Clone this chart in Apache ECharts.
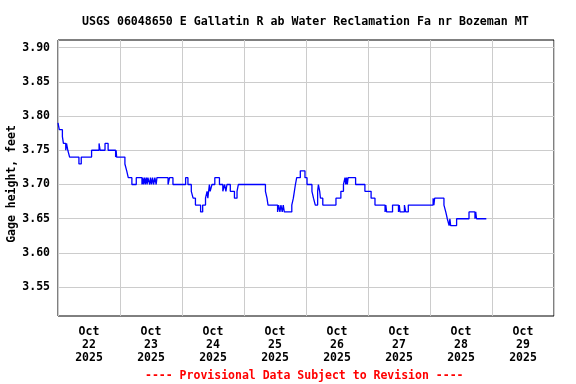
<!DOCTYPE html>
<html>
<head>
<meta charset="utf-8">
<script src="https://cdn.jsdelivr.net/npm/echarts@6/dist/echarts.min.js"></script>
<style>html,body{margin:0;padding:0;background:#fff}#c{width:576px;height:384px}</style>
</head>
<body>
<div id="c"></div>
<script>
// Hours since Oct 22 2025 00:00 at which the gage height changes
var changeHours = [0,0.5,1.7,2.1,3.0,3.3,3.8,4.5,8.1,9.0,13.0,15.9,16.3,18.2,19.4,22.3,22.5,22.7,25.9,26.6,27.2,28.6,30.3,
  32.5,32.8,33.1,33.5,33.8,34.2,34.5,34.8,35.5,35.8,36.2,36.6,37.0,37.5,38.0,38.3,42.6,43.2,44.5,49.4,50.3,51.6,52.3,53.2,55.2,56.0,
  57.1,57.7,58.0,58.3,58.6,58.9,59.6,60.7,62.5,63.8,64.5,65.0,65.4,66.7,68.3,69.3,69.8,80.3,80.9,81.3,
  85.0,85.4,85.9,86.3,86.8,87.2,87.6,90.5,91.1,91.5,91.9,92.4,93.8,95.6,96.4,98.3,98.9,99.6,100.5,100.8,101.3,101.6,102.1,102.5,
  107.6,109.5,110.5,111.1,111.4,111.7,112.0,112.3,115.2,118.8,121.2,122.7,126.6,126.9,127.2,129.5,131.8,132.1,132.4,134.1,134.6,135.6,
  145.2,145.5,145.8,149.4,150.1,150.7,151.4,151.7,152.0,154.3,159.1,161.4,161.7,162.0,165.8];
// Gage height (feet) from each change time on
var gageFeet = [3.79,3.78,3.77,3.76,3.75,3.76,3.75,3.74,3.73,3.74,3.75,3.76,3.75,3.76,3.75,3.74,3.75,3.74,3.73,3.72,3.71,3.70,3.71,
  3.70,3.71,3.70,3.71,3.70,3.71,3.70,3.71,3.70,3.71,3.70,3.71,3.70,3.71,3.70,3.71,3.70,3.71,3.70,3.71,3.70,3.69,3.68,3.67,3.66,3.67,
  3.68,3.69,3.68,3.69,3.70,3.69,3.70,3.71,3.70,3.69,3.70,3.69,3.70,3.69,3.68,3.69,3.70,3.69,3.68,3.67,
  3.66,3.67,3.66,3.67,3.66,3.67,3.66,3.67,3.68,3.69,3.70,3.71,3.72,3.71,3.70,3.69,3.68,3.67,3.69,3.70,3.69,3.68,3.68,3.67,
  3.68,3.69,3.70,3.71,3.70,3.71,3.70,3.71,3.70,3.69,3.68,3.67,3.66,3.67,3.66,3.67,3.66,3.67,3.66,3.67,3.66,3.67,
  3.68,3.67,3.68,3.67,3.66,3.65,3.64,3.65,3.64,3.65,3.66,3.65,3.66,3.65,3.65];
var dayLabels = ['Oct\n22\n2025','Oct\n23\n2025','Oct\n24\n2025','Oct\n25\n2025','Oct\n26\n2025','Oct\n27\n2025','Oct\n28\n2025','Oct\n29\n2025'];
var dayLabelHours = [12,36,60,84,108,132,156,180];
var yTicks = [3.55,3.60,3.65,3.70,3.75,3.80,3.85,3.90];
var titleText = 'USGS 06048650 E Gallatin R ab Water Reclamation Fa nr Bozeman MT';
var yName = 'Gage height, feet';
var footerText = '---- Provisional Data Subject to Revision ----';

var seriesData = changeHours.map(function(h, i){ return [h, gageFeet[i]]; });
var font = "'DejaVu Sans Mono', 'Liberation Mono', monospace";
var chart = echarts.init(document.getElementById('c'), null, {renderer: 'canvas'});
chart.setOption({
  animation: false,
  backgroundColor: '#fff',
  title: {
    text: titleText, left: 77, top: 11,
    textStyle: {fontFamily: font, fontWeight: 'bold', fontSize: 11.6, color: '#000'}
  },
  grid: {left: 58, right: 22, top: 40, bottom: 68, containLabel: false, outerBoundsMode: 'none',
    show: true, borderColor: '#000', borderWidth: 1, backgroundColor: 'transparent'},
  xAxis: {
    type: 'value', min: 0, max: 192, interval: 24,
    axisLine: {show: false}, axisTick: {show: false},
    splitLine: {show: true, lineStyle: {color: '#cccccc', width: 1}},
    axisLabel: {
      customValues: dayLabelHours, margin: 10, lineHeight: 13,
      fontFamily: font, fontWeight: 'bold', fontSize: 11.5, color: '#000',
      formatter: function(v){ var i = dayLabelHours.indexOf(Math.round(v)); return i >= 0 ? dayLabels[i] : ''; }
    }
  },
  yAxis: {
    type: 'value', min: 3.508, max: 3.911,
    name: yName, nameLocation: 'middle', nameGap: 40, nameMoveOverlap: false,
    nameTextStyle: {fontFamily: font, fontWeight: 'bold', fontSize: 11.5, color: '#000', padding: [0, 12, 0, 0]},
    axisLine: {show: false},
    axisTick: {show: false, customValues: yTicks},
    splitLine: {show: true, lineStyle: {color: '#cccccc', width: 1}},
    axisLabel: {
      customValues: yTicks, margin: 8,
      fontFamily: font, fontWeight: 'bold', fontSize: 11.5, color: '#000',
      formatter: function(v){ return v.toFixed(2); }
    }
  },
  graphic: [{
    type: 'text', left: 145, top: 370,
    style: {text: footerText, fill: '#ff0000', font: "bold 11.5px 'DejaVu Sans Mono', monospace"}
  }],
  series: [{
    type: 'line', step: 'end', data: seriesData, showSymbol: false,
    lineStyle: {color: '#0000ff', width: 1.3}, itemStyle: {color: '#0000ff'}
  }]
});
</script>
</body>
</html>
